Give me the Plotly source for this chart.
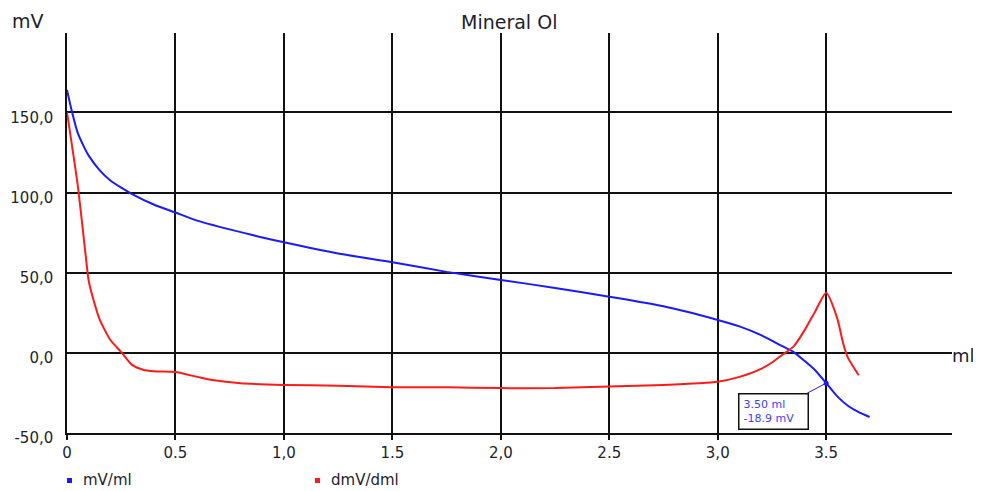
import plotly.graph_objects as go

# ---- data ----
x_mv = [0.00, 0.02, 0.05, 0.08, 0.10, 0.15, 0.20, 0.25, 0.30, 0.40, 0.50, 0.60, 0.75, 0.90,
        1.00, 1.25, 1.50, 1.75, 2.00, 2.25, 2.50, 2.75, 3.00, 3.10, 3.20, 3.30, 3.35, 3.40,
        3.45, 3.50, 3.55, 3.60, 3.65, 3.70]
mv = [164, 152, 137, 128, 123, 114, 107.5, 103, 99, 92.5, 87.5, 82.5, 77, 72,
      69, 62, 56.5, 50.5, 45.5, 40.5, 35, 29, 20.5, 16.5, 11, 4, 0.5, -5,
      -11, -18.9, -27, -33, -37, -40]

x_dmv = [0.00, 0.05, 0.09, 0.10, 0.12, 0.15, 0.20, 0.25, 0.30, 0.35, 0.40, 0.50, 0.60, 0.67,
         0.80, 1.00, 1.25, 1.50, 1.75, 2.00, 2.25, 2.50, 2.75, 3.00, 3.10, 3.20, 3.25,
         3.30, 3.35, 3.40, 3.45, 3.50, 3.55, 3.58, 3.60, 3.65]
dmv = [150, 104, 56, 45, 34, 21, 8, 0.5, -7.5, -10.5, -11.5, -12, -15, -17,
       -19, -20, -20.5, -21.5, -21.5, -22, -22, -21, -20, -18, -15, -10, -6,
       -1, 4, 14, 26, 37.5, 22, 5, -3, -14]

x_ticks = [0, 0.5, 1.0, 1.5, 2.0, 2.5, 3.0, 3.5]
x_tick_text = ["0", "0.5", "1,0", "1.5", "2,0", "2.5", "3,0", "3.5"]
y_ticks = [-50, 0, 50, 100, 150]
y_tick_text = ["-50,0", "0,0", "50,0", "100,0", "150,0"]

marker_x, marker_y = 3.50, -18.9
marker_text = "3.50 ml<br>-18.9 mV"

title = "Mineral Ol"
legend_names = ["mV/ml", "dmV/dml"]

BLUE = "#1a1aff"
RED = "#ff1a1a"
FONT = "DejaVu Sans"
TXT = "#1e1e2c"

# ---- figure (page has an 8px body margin) ----
OFF = 8
W, H = 981 - OFF, 491 - OFF
L, R, T = 67 - OFF, 29, 33 - OFF
pw, ph = 885, 400
B = H - T - ph

def px_x(p):  # page pixel -> paper
    return (p - OFF - L) / pw

def px_y(p):
    return (T + ph - (p - OFF)) / ph

fig = go.Figure()
fig.add_trace(go.Scatter(x=x_mv, y=mv, mode="lines", line=dict(color=BLUE, width=2),
                         line_shape="spline", line_smoothing=0.6,
                         showlegend=False, hoverinfo="skip"))
fig.add_trace(go.Scatter(x=x_dmv, y=dmv, mode="lines", line=dict(color=RED, width=2),
                         line_shape="spline", line_smoothing=0.6,
                         showlegend=False, hoverinfo="skip"))
fig.add_trace(go.Scatter(x=[marker_x], y=[marker_y], mode="markers",
                         marker=dict(color=BLUE, size=5), showlegend=False, hoverinfo="skip"))

fig.add_annotation(x=marker_x, y=marker_y, xref="x", yref="y", text=marker_text,
                   showarrow=True, arrowhead=0, arrowwidth=1, arrowcolor=BLUE,
                   ax=-53, ay=28, align="left", width=60, height=26,
                   bordercolor="#111", borderwidth=1.5,
                   borderpad=4, bgcolor="white",
                   font=dict(family=FONT, size=11, color="#4040ff"))

# titles / axis labels
fig.add_annotation(x=px_x(509), y=px_y(22), xref="paper", yref="paper", text=title,
                   showarrow=False, xanchor="center", yanchor="middle",
                   font=dict(family=FONT, size=19, color=TXT))
fig.add_annotation(x=px_x(10), y=px_y(21), xref="paper", yref="paper", text="mV",
                   showarrow=False, xanchor="left", yanchor="middle",
                   font=dict(family=FONT, size=19, color=TXT))
fig.add_annotation(x=px_x(976), y=px_y(355), xref="paper", yref="paper", text="ml",
                   showarrow=False, xanchor="right", yanchor="middle", borderpad=0,
                   font=dict(family=FONT, size=18, color=TXT))

# legend (squares + text)
for sx, tx, col, name in [(67, 81, BLUE, legend_names[0]), (315, 329, RED, legend_names[1])]:
    fig.add_shape(type="rect", xref="paper", yref="paper",
                  x0=px_x(sx), x1=px_x(sx + 5), y0=px_y(483), y1=px_y(478),
                  fillcolor=col, line=dict(width=0))
    fig.add_annotation(x=px_x(tx), y=px_y(480), xref="paper", yref="paper", text=name,
                       showarrow=False, xanchor="left", yanchor="middle",
                       font=dict(family=FONT, size=15, color=TXT))

fig.update_xaxes(range=[0, 4.08], tickvals=x_ticks, ticktext=x_tick_text,
                 showgrid=True, gridcolor="#111", gridwidth=1.5,
                 showline=True, linecolor="#111", linewidth=1.5,
                 ticks="outside", ticklen=5, tickcolor="#111", tickwidth=1.5,
                 zeroline=False,
                 tickfont=dict(family=FONT, size=15, color=TXT))
fig.update_yaxes(range=[-50, 199.5], tickvals=y_ticks, ticktext=y_tick_text,
                 showgrid=True, gridcolor="#111", gridwidth=1.5,
                 showline=True, linecolor="#111", linewidth=1.5,
                 ticks="", zeroline=False, ticklabelshift=5, ticklabelstandoff=9,
                 tickfont=dict(family=FONT, size=15, color=TXT))

fig.update_layout(width=W, height=H, margin=dict(l=L, r=R, t=T, b=B, autoexpand=False),
                  paper_bgcolor="white", plot_bgcolor="white", showlegend=False)

fig.write_html("out.html",
               post_script="document.documentElement.style.overflow='hidden';"
                           "document.body.style.overflow='hidden';")
